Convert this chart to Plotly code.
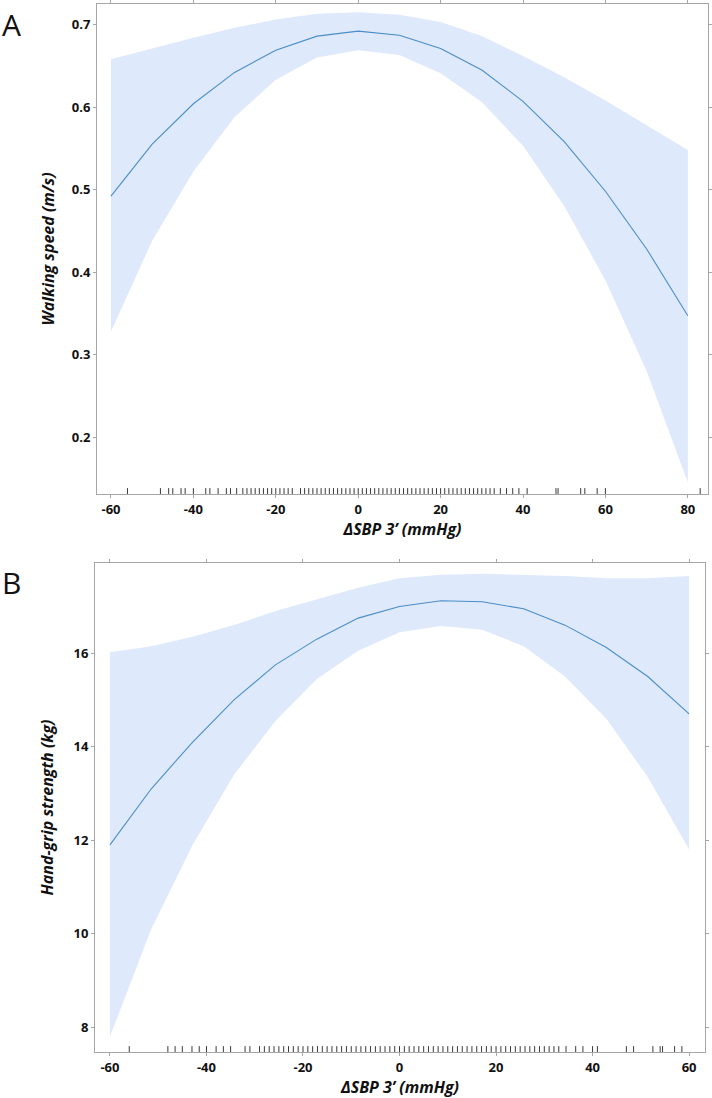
import plotly.graph_objects as go

# ---------------- Panel A data ----------------
a_x = [-60, -50, -40, -30, -20, -10, 0, 10, 20, 30, 40, 50, 60, 70, 80]
a_fit = [0.492, 0.555, 0.604, 0.642, 0.669, 0.686, 0.692, 0.687, 0.671, 0.645, 0.607, 0.558, 0.498, 0.428, 0.347]
a_upper = [0.658, 0.671, 0.684, 0.696, 0.706, 0.713, 0.715, 0.712, 0.703, 0.686, 0.662, 0.636, 0.608, 0.578, 0.548]
a_lower = [0.328, 0.438, 0.522, 0.588, 0.633, 0.660, 0.669, 0.663, 0.641, 0.606, 0.553, 0.480, 0.390, 0.280, 0.145]
a_rug = [-56, -48, -46, -45, -43, -42, -40, -37, -36, -34, -32, -31, -29.5,
         -28, -27, -26, -25, -24, -23, -22, -21, -20, -19, -18, -17, -16, -14, -13,
         -12, -11, -10, -9, -8, -7, -6, -5, -4, -3, -2, -1, 0, 1, 2, 3, 4, 5, 6, 7,
         8, 9, 10, 11, 12, 13, 14, 15, 16, 17, 18, 19, 20, 21, 22, 23, 24, 25, 26,
         27, 28, 29, 30, 31, 32, 33, 34.5, 36, 37.5, 39, 41, 48, 48.5, 54, 55, 58, 60, 83]
a_xticks = [-60, -40, -20, 0, 20, 40, 60, 80]
a_xticktext = ["-60", "-40", "-20", "0", "20", "40", "60", "80"]
a_yticks = [0.2, 0.3, 0.4, 0.5, 0.6, 0.7]
a_yticktext = ["0.2", "0.3", "0.4", "0.5", "0.6", "0.7"]

# ---------------- Panel B data ----------------
b_x = [-60, -51.43, -42.86, -34.29, -25.71, -17.14, -8.57, 0, 8.57, 17.14, 25.71, 34.29, 42.86, 51.43, 60]
b_fit = [11.9, 13.1, 14.1, 15.0, 15.75, 16.3, 16.75, 17.0, 17.12, 17.1, 16.95, 16.6, 16.12, 15.5, 14.7]
b_upper = [16.02, 16.15, 16.35, 16.6, 16.9, 17.15, 17.4, 17.6, 17.68, 17.7, 17.68, 17.65, 17.6, 17.6, 17.65]
b_lower = [7.8, 10.1, 11.9, 13.4, 14.55, 15.45, 16.05, 16.45, 16.58, 16.5, 16.15, 15.5, 14.6, 13.35, 11.8]
b_rug = [-56, -48, -46.5, -45, -43, -41.5, -40, -38, -36.5, -35, -32, -31, -29, -28, -27,
         -26, -25, -24, -23, -22, -21, -20, -19, -18, -17, -16, -15, -14, -13, -12, -11,
         -10, -9, -8, -7, -6, -5, -4, -3, -2, -1, 0, 1, 2, 3, 4, 5, 6, 7, 8, 9, 10, 11,
         12, 13, 14, 15, 16, 17, 18, 19, 20, 21, 22, 23, 24, 25, 26, 27, 28, 29, 30, 31,
         32, 33, 34.5, 36.5, 38, 40, 41, 47, 48.5, 52.5, 54, 54.5, 57, 58.5]
b_xticks = [-60, -40, -20, 0, 20, 40, 60]
b_xticktext = ["-60", "-40", "-20", "0", "20", "40", "60"]
b_yticks = [8, 10, 12, 14, 16]
b_yticktext = ["8", "10", "12", "14", "16"]

BAND = "rgb(223,233,252)"
LINE = "#4a8ec8"
AXC = "#a6a6a6"
FONT = "Open Sans"

fig = go.Figure()

def add_panel(x, fit, up, lo, xa, ya):
    fig.add_trace(go.Scatter(x=x + x[::-1], y=up + lo[::-1], fill="toself",
                             fillcolor=BAND, line=dict(width=0), mode="lines",
                             hoverinfo="skip", showlegend=False, xaxis=xa, yaxis=ya))
    fig.add_trace(go.Scatter(x=x, y=fit, mode="lines", line=dict(color=LINE, width=1.1),
                             showlegend=False, xaxis=xa, yaxis=ya))

add_panel(a_x, a_fit, a_upper, a_lower, "x", "y")
add_panel(b_x, b_fit, b_upper, b_lower, "x2", "y2")

shapes = []
for v in a_rug:
    shapes.append(dict(type="line", xref="x", yref="y domain", x0=v, x1=v, y0=0, y1=0.012,
                       line=dict(color="#222222", width=0.9)))
for v in b_rug:
    shapes.append(dict(type="line", xref="x2", yref="y2 domain", x0=v, x1=v, y0=0, y1=0.012,
                       line=dict(color="#222222", width=0.9)))

tickfont = dict(family=FONT, size=13, color="#111111", weight="bold")
titlefont = dict(family=FONT, size=16, color="#111111", weight="bold", style="italic")

def xaxis(domain, rng, tv, tt, anchor, standoff):
    return dict(domain=domain, range=rng, tickvals=tv, ticktext=tt, anchor=anchor,
                showgrid=False, zeroline=False, showline=True, linecolor=AXC, linewidth=1,
                mirror="ticks", ticks="outside", ticklen=3, tickcolor=AXC,
                tickfont=tickfont,
                title=dict(text="ΔSBP 3’ (mmHg)", font=titlefont, standoff=standoff))

def yaxis(domain, rng, tv, tt, anchor, title, standoff):
    return dict(domain=domain, range=rng, tickvals=tv, ticktext=tt, anchor=anchor,
                showgrid=False, zeroline=False, showline=True, linecolor=AXC, linewidth=1,
                mirror="ticks", ticks="outside", ticklen=3, tickcolor=AXC,
                tickfont=tickfont,
                title=dict(text=title, font=titlefont, standoff=standoff))

fig.update_layout(
    width=712, height=1098,
    margin=dict(l=0, r=0, t=0, b=0),
    paper_bgcolor="white", plot_bgcolor="white",
    xaxis=xaxis([0.1362, 0.9944], [-63.4, 84.9], a_xticks, a_xticktext, "y", 5),
    yaxis=yaxis([0.5501, 0.9964], [0.131, 0.725], a_yticks, a_yticktext, "x", "Walking speed (m/s)", 13),
    xaxis2=xaxis([0.1334, 0.9902], [-63.1, 63.3], b_xticks, b_xticktext, "y2", 2),
    yaxis2=yaxis([0.0419, 0.4873], [7.47, 17.93], b_yticks, b_yticktext, "x2", "Hand-grip strength (kg)", 15),
    shapes=shapes,
    annotations=[
        dict(text="A", x=0.0, y=1 - 25 / 1098, xref="paper", yref="paper", xanchor="left", yanchor="middle",
             showarrow=False, font=dict(family=FONT, size=30, color="#111111")),
        dict(text="B", x=0.0, y=1 - 582 / 1098, xref="paper", yref="paper", xanchor="left", yanchor="middle",
             showarrow=False, font=dict(family=FONT, size=30, color="#111111")),
    ],
)

fig.write_html("out.html", config={"displayModeBar": False},
               post_script="document.body.style.margin='0';document.body.style.padding='0';")
